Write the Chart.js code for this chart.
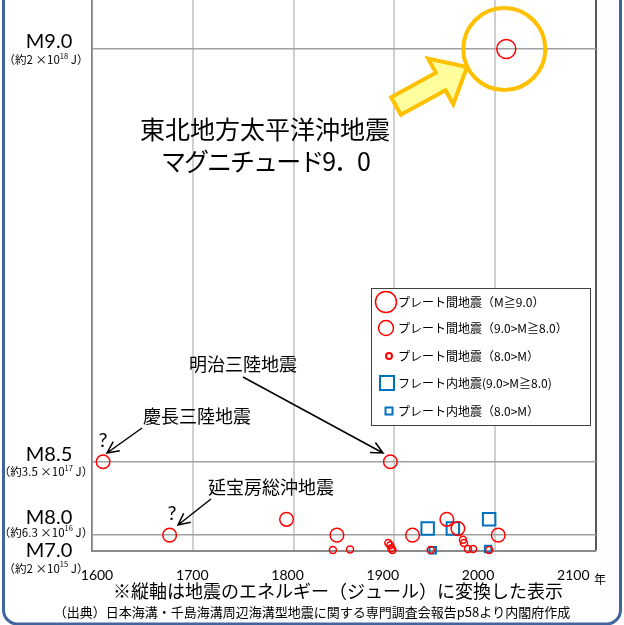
<!DOCTYPE html>
<html lang="ja">
<head>
<meta charset="utf-8">
<title>東北地方太平洋沖地震 マグニチュード9.0</title>
<script src="https://cdn.jsdelivr.net/npm/chart.js@4.4.1/dist/chart.umd.min.js"></script>
<style>
  html, body { margin: 0; padding: 0; background: #fff; }
  canvas { display: block; }
</style>
</head>
<body>
<canvas id="quakeChart" width="624" height="625"></canvas>
<script>
// axis ticks
const yearTicks = [1600, 1700, 1800, 1900, 2000, 2100];
const magTicks = [9.0, 8.5, 8.0, 7.0];
const magNoteNum = ["2", "3.5", "6.3", "2"];
const magNoteExp = ["18", "17", "16", "15"];

// プレート間地震 (M≧9.0)
const interM9Years = [2011];
const interM9Mags = [9.0];
// プレート間地震 (9.0>M≧8.0)
const interM8Years = [1611, 1677, 1793, 1843, 1896, 1918, 1952, 1963, 2003];
const interM8Mags = [8.5, 8.0, 8.2, 8.0, 8.5, 8.0, 8.2, 8.1, 8.0];
// プレート間地震 (8.0>M)
const interM7Years = [1839, 1856, 1894, 1896, 1897, 1898, 1936, 1968, 1969, 1973, 1978, 1994];
const interM7Mags = [7.2, 7.3, 7.8, 7.7, 7.5, 7.2, 7.2, 7.9, 7.8, 7.4, 7.4, 7.2];
// プレート内地震 (9.0>M≧8.0)
const intraM8Years = [1933, 1958, 1994];
const intraM8Mags = [8.1, 8.1, 8.2];
// プレート内地震 (8.0>M)
const intraM7Years = [1938, 1993];
const intraM7Mags = [7.1, 7.4];

const seriesLabels = [
  "プレート間地震（M≧9.0）",
  "プレート間地震（9.0>M≧8.0）",
  "プレート間地震（8.0>M）",
  "フレート内地震(9.0>M≧8.0)",
  "プレート内地震（8.0>M）"
];

// magnitude -> energy, in units of 10^16 J
const energy = m => Math.pow(10, 1.5 * m + 4.8 - 16);
const toPoints = (years, mags) => years.map((yr, i) => ({ x: yr, y: energy(mags[i]) }));

const RED = "#FF0000";
const BLUE = "#0070C0";
const JP = '"Noto Sans CJK JP"';

// label offsets (px) around each magnitude gridline
const magLabelDy = [-7, -7, -18, 0];
const magNoteDy = [11, 10, -3, 18];

function drawNote(ctx, cx, cy, num, exp) {
  const runs = [
    { t: "（約" + num + " ×10", f: "11.5px " + JP, dy: 0 },
    { t: exp, f: "7.5px " + JP, dy: -4 },
    { t: " J）", f: "11.5px " + JP, dy: 0 }
  ];
  let w = 0;
  runs.forEach(r => { ctx.font = r.f; r.w = ctx.measureText(r.t).width; w += r.w; });
  let x = cx - w / 2;
  ctx.textAlign = "left";
  runs.forEach(r => { ctx.font = r.f; ctx.fillText(r.t, x, cy + r.dy); x += r.w; });
}

function lineArrow(ctx, x1, y1, x2, y2) {
  const a = Math.atan2(y2 - y1, x2 - x1);
  const len = 13, spread = 0.45;
  ctx.beginPath();
  ctx.moveTo(x1, y1);
  ctx.lineTo(x2, y2);
  ctx.moveTo(x2 - len * Math.cos(a - spread), y2 - len * Math.sin(a - spread));
  ctx.lineTo(x2, y2);
  ctx.lineTo(x2 - len * Math.cos(a + spread), y2 - len * Math.sin(a + spread));
  ctx.stroke();
}

const overlay = {
  id: "overlay",
  afterDraw(chart) {
    const ctx = chart.ctx;
    const xs = chart.scales.x, ys = chart.scales.y;
    ctx.save();
    ctx.fillStyle = "#000";
    ctx.textBaseline = "middle";

    // y labels
    magTicks.forEach((m, i) => {
      const py = ys.getPixelForValue(energy(m));
      ctx.font = "20px Lato";
      ctx.textAlign = "center";
      ctx.fillText("M" + m.toFixed(1), 49, py + magLabelDy[i]);
      drawNote(ctx, 46, py + magNoteDy[i], magNoteNum[i], magNoteExp[i]);
    });

    // x labels (original labels drift slightly left of the gridlines)
    ctx.font = "14px Lato";
    ctx.textAlign = "center";
    yearTicks.forEach(v => {
      const px = xs.getPixelForValue(v);
      ctx.fillText(String(v), px + 5 - (px - xs.left) * 0.055, 575);
    });
    ctx.font = "12px " + JP;
    ctx.fillText("年", 600, 579);

    // notes under the chart
    ctx.font = "18px " + JP;
    ctx.fillText("※縦軸は地震のエネルギー（ジュール）に変換した表示", 338, 591);
    ctx.font = "13px " + JP;
    ctx.fillText("（出典）日本海溝・千島海溝周辺海溝型地震に関する専門調査会報告p58より内閣府作成", 312, 612);

    // callout for 2011
    const cx = xs.getPixelForValue(interM9Years[0]) - 2;
    const cy = ys.getPixelForValue(energy(interM9Mags[0]));
    ctx.strokeStyle = "#FFC000";
    ctx.lineWidth = 4;
    ctx.beginPath();
    ctx.arc(cx, cy, 41, 0, Math.PI * 2);
    ctx.stroke();

    const T = { x: 396, y: 106 }, P = { x: 467, y: 67 };
    const dx = P.x - T.x, dy = P.y - T.y, L = Math.hypot(dx, dy);
    const u = { x: dx / L, y: dy / L }, n = { x: -u.y, y: u.x };
    const h = 30, hw = 26, sw = 10;
    const B = { x: P.x - h * u.x, y: P.y - h * u.y };
    const poly = [
      [T.x + sw * n.x, T.y + sw * n.y],
      [B.x + sw * n.x, B.y + sw * n.y],
      [B.x + hw * n.x, B.y + hw * n.y],
      [P.x, P.y],
      [B.x - hw * n.x, B.y - hw * n.y],
      [B.x - sw * n.x, B.y - sw * n.y],
      [T.x - sw * n.x, T.y - sw * n.y]
    ];
    ctx.beginPath();
    poly.forEach((p, i) => (i ? ctx.lineTo(p[0], p[1]) : ctx.moveTo(p[0], p[1])));
    ctx.closePath();
    ctx.fillStyle = "#FFFF9E";
    ctx.fill();
    ctx.lineJoin = "miter";
    ctx.stroke();

    ctx.fillStyle = "#000";
    ctx.font = "25px " + JP;
    ctx.textAlign = "center";
    ctx.fillText("東北地方太平洋沖地震", 265, 129);
    ctx.letterSpacing = "-2px";
    ctx.fillText("マグニチュード9．0", 265, 161);
    ctx.letterSpacing = "0px";

    // historical annotations
    ctx.font = "18px " + JP;
    ctx.fillText("明治三陸地震", 243, 364);
    ctx.fillText("慶長三陸地震", 197, 416);
    ctx.fillText("延宝房総沖地震", 271, 487);
    ctx.font = "20px Lato";
    ctx.fillText("?", 103, 441);
    ctx.fillText("?", 172, 514);
    ctx.strokeStyle = "#000";
    ctx.lineWidth = 1.5;
    lineArrow(ctx, 243, 377, 383, 453);
    lineArrow(ctx, 142, 428, 107, 453);
    lineArrow(ctx, 211, 499, 178, 525);

    // legend
    ctx.fillStyle = "#fff";
    ctx.fillRect(371.5, 288.5, 219, 137);
    ctx.strokeStyle = "#404040";
    ctx.lineWidth = 1;
    ctx.strokeRect(371.5, 288.5, 219, 137);
    const rows = [302, 328, 356, 383, 411];
    const marks = [
      { shape: "circle", r: 10.5, x: 386, lw: 1.5 },
      { shape: "circle", r: 7.5, x: 386, lw: 1.5 },
      { shape: "circle", r: 3, x: 389, lw: 2 },
      { shape: "rect", r: 7, x: 387, lw: 2 },
      { shape: "rect", r: 3.5, x: 389, lw: 2 }
    ];
    chart.data.datasets.forEach((ds, i) => {
      const mk = marks[i], y = rows[i];
      ctx.strokeStyle = ds.borderColor;
      ctx.lineWidth = mk.lw;
      ctx.beginPath();
      if (mk.shape === "circle") ctx.arc(mk.x, y, mk.r, 0, Math.PI * 2);
      else ctx.rect(mk.x - mk.r, y - mk.r, mk.r * 2, mk.r * 2);
      ctx.stroke();
      ctx.fillStyle = "#000";
      ctx.font = "12px " + JP;
      ctx.textAlign = "left";
      ctx.fillText(ds.label, 398, y);
    });

    // slide frame
    ctx.strokeStyle = "#41659E";
    ctx.lineWidth = 3;
    ctx.beginPath();
    ctx.roundRect(3.5, -30, 617, 654, 14);
    ctx.stroke();
    ctx.restore();
  }
};

const ctx = document.getElementById("quakeChart").getContext("2d");
new Chart(ctx, {
  type: "scatter",
  data: {
    datasets: [
      { label: seriesLabels[0], data: toPoints(interM9Years, interM9Mags), pointStyle: "circle",
        pointRadius: 9.5, borderColor: RED, backgroundColor: "transparent", borderWidth: 1.5, clip: false },
      { label: seriesLabels[1], data: toPoints(interM8Years, interM8Mags), pointStyle: "circle",
        pointRadius: 6.8, borderColor: RED, backgroundColor: "transparent", borderWidth: 1.5, clip: false },
      { label: seriesLabels[2], data: toPoints(interM7Years, interM7Mags), pointStyle: "circle",
        pointRadius: 3.5, borderColor: RED, backgroundColor: "transparent", borderWidth: 1.5, clip: false },
      { label: seriesLabels[3], data: toPoints(intraM8Years, intraM8Mags), pointStyle: "rect",
        pointRadius: 8.8, borderColor: BLUE, backgroundColor: "transparent", borderWidth: 2, clip: false },
      { label: seriesLabels[4], data: toPoints(intraM7Years, intraM7Mags), pointStyle: "rect",
        pointRadius: 4.6, borderColor: BLUE, backgroundColor: "transparent", borderWidth: 2, clip: false }
    ]
  },
  options: {
    responsive: false,
    animation: false,
    devicePixelRatio: 1,
    layout: { autoPadding: false, padding: { left: 92, right: 28, top: 0, bottom: 74 } },
    plugins: { legend: { display: false }, tooltip: { enabled: false } },
    scales: {
      x: {
        type: "linear",
        min: 1600,
        max: 2100,
        afterBuildTicks: axis => { axis.ticks = yearTicks.map(v => ({ value: v })); },
        ticks: { display: false },
        grid: {
          drawTicks: false,
          color: c => (c.tick.value === 2100 ? "#595959" : c.tick.value === 1600 ? "#808080" : "#D0D0D0"),
          lineWidth: c => (c.tick.value === 2100 ? 2 : c.tick.value === 1600 ? 1.5 : 2)
        },
        border: { color: "#8C8C8C", width: 2 }
      },
      y: {
        type: "linear",
        min: 0,
        max: 219,
        afterBuildTicks: axis => { axis.ticks = magTicks.map(m => ({ value: energy(m) })); },
        ticks: { display: false },
        grid: { drawTicks: false, color: "#A0A0A0", lineWidth: 1.5 },
        border: { color: "#808080", width: 1.5 }
      }
    }
  },
  plugins: [overlay]
});
</script>
</body>
</html>
